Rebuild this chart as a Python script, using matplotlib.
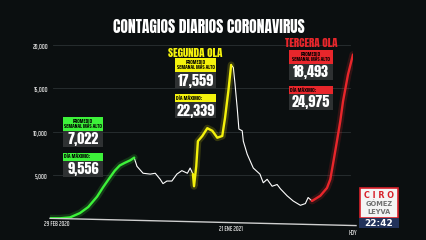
import matplotlib
matplotlib.use("Agg")
import matplotlib.pyplot as plt
from matplotlib.patches import Rectangle

# dias desde el 29 feb 2020 y contagios diarios
ola1_dias = [0, 18, 36, 54, 69, 85, 96, 108, 117, 126, 135, 145, 152]
ola1_casos = [0, 0, 100, 600, 1300, 2500, 3600, 4700, 5500, 6100, 6400, 6700, 7000]

valle1_dias = [152, 157, 168, 181, 190, 199, 204, 211, 220, 229, 238, 248, 253, 258]
valle1_casos = [7000, 6000, 5200, 5100, 5200, 4500, 4000, 4300, 4300, 5100, 5500, 5200, 5800, 5100]

ola2_dias = [258, 260, 264, 267, 275, 284, 293, 302, 311, 316, 322, 327]
ola2_casos = [5100, 3700, 6000, 8900, 9500, 10400, 10100, 9300, 9500, 11600, 14700, 17700]

valle2_dias = [327, 331, 334, 338, 341, 347, 349, 356, 367, 379, 385, 392, 401,
               410, 416, 428, 439, 452, 461, 466, 473]
valle2_casos = [17700, 17400, 15500, 12700, 10300, 10100, 8900, 7400, 5800, 5100, 4100,
                4500, 3700, 3900, 3400, 2600, 2000, 1500, 1700, 2400, 2000]

ola3_dias = [473, 488, 500, 506, 511, 518, 524, 529, 538, 547]
ola3_casos = [2000, 2600, 3500, 4500, 6300, 8900, 11200, 13500, 16600, 18900]

yticks = [5000, 10000, 15000, 20000]
fechas = ["29 FEB 2020", "21 ENE 2021", "HOY"]
fechas_dias = [0, 327, 547]

olas = [
    # titulo, promedio, dia maximo, color, x izquierda, ancho, y titulo, y caja
    ("", "7,022", "9,556", "#3df23a", 63, 40, None, 117),
    ("SEGUNDA OLA", "17,559", "22,339", "#f4f20c", 175, 41, 53, 58),
    ("TERCERA OLA", "18,493", "24,975", "#e8262b", 289, 44, 43, 50),
]

BIG = ["Anton", "DejaVu Sans"]
SMALL = ["Saira ExtraCondensed", "DejaVu Sans"]

BG = "#0b0f10"
W, H = 426, 240
fig = plt.figure(figsize=(4.26, 2.4), dpi=100, facecolor=BG)
ax = fig.add_axes([50 / W, (H - 218.3) / H, 303 / W, 173.3 / H])
ax.set_facecolor("none")
ax.set_xlim(0, 547)
ax.set_ylim(0, 20000)

for y in yticks:
    ax.axhline(y, xmin=0.01, xmax=0.99, color="#2b3133", lw=0.6, zorder=1)

ax.set_yticks(yticks)
ax.set_yticklabels([f"{v:,}" for v in yticks], fontsize=5.2, color="#d0d0d0",
                   family=SMALL, fontweight="semibold")
ax.tick_params(axis="y", length=0, pad=1.5)
ax.set_xticks([])
for s in ax.spines.values():
    s.set_visible(False)

# linea base inclinada
ax.plot([0, 1.01], [0.0, -0.042], transform=ax.transAxes, color="#cfcfcf", lw=1.0,
        clip_on=False, zorder=2)

ax.plot(valle1_dias, valle1_casos, color="white", lw=0.8, zorder=3)
ax.plot(valle2_dias, valle2_casos, color="white", lw=0.8, zorder=3)
for d, c, col in [(ola1_dias, ola1_casos, olas[0][3]),
                  (ola2_dias, ola2_casos, olas[1][3]),
                  (ola3_dias, ola3_casos, olas[2][3])]:
    ax.plot(d, c, color=col, lw=5, alpha=0.18, zorder=3, solid_capstyle="round")
    ax.plot(d, c, color=col, lw=1.7, zorder=4, solid_capstyle="round")

fy = [-0.032, -0.06, -0.084]
for lab, d, y in zip(fechas, fechas_dias, fy):
    ax.text(d + (12 if d == 0 else 0), y, lab, transform=ax.get_xaxis_transform(),
            fontsize=5.0, color="#d0d0d0", ha="center", va="center",
            family=SMALL, fontweight="semibold")

fig.text(209 / W, 1 - 27 / H, "CONTAGIOS DIARIOS CORONAVIRUS", ha="center", va="center",
         color="white", fontsize=11.2, family=BIG)


def caja(x0, y0, w, h, color):
    fig.patches.append(Rectangle((x0 / W, 1 - (y0 + h) / H), w / W, h / H,
                                 transform=fig.transFigure, facecolor=color,
                                 edgecolor="none", zorder=5))


def texto(x, y, s, **kw):
    fig.text(x / W, 1 - y / H, s, ha="center", va="center", zorder=10, **kw)


for titulo, prom, maxi, col, x0, w, yt, yb in olas:
    cx = x0 + w / 2
    if titulo:
        texto(cx, yt, titulo, color=col, fontsize=8, family=BIG)
    caja(x0, yb, w, 14, col)
    texto(cx, yb + 7, "PROMEDIO\nSEMANAL MÁS ALTO", color="black", fontsize=4.5,
          fontweight="bold", linespacing=1.05, family=SMALL)
    caja(x0, yb + 14, w, 16, "#2e3132")
    texto(cx, yb + 22.5, prom, color="white", fontsize=10.3, family=BIG)
    caja(x0, yb + 36, w, 8, col)
    fig.text((x0 + 1.5) / W, 1 - (yb + 40) / H, "DÍA MÁXIMO:", ha="left", va="center",
             color="black", fontsize=4.6, fontweight="bold", family=SMALL, zorder=10)
    caja(x0, yb + 44, w, 16, "#2e3132")
    texto(cx, yb + 52.5, maxi, color="white", fontsize=10.3, family=BIG)

# logo
fig.patches.append(Rectangle((360 / W, 1 - 218 / H), 38 / W, 30 / H, transform=fig.transFigure,
                             facecolor="#f4f4f4", edgecolor="#d8202a", lw=1.2, zorder=5))
fig.patches.append(Rectangle((359.4 / W, 1 - 228 / H), 39.2 / W, 10 / H, transform=fig.transFigure,
                             facecolor="#22325a", edgecolor="none", zorder=5))
texto(379, 195, "C I R O", color="#d8202a", fontsize=5.8, fontweight="bold")
texto(379, 204, "GÓMEZ", color="#707070", fontsize=4.8, fontweight="bold")
texto(379, 212, "LEYVA", color="#707070", fontsize=4.8, fontweight="bold")
texto(379, 223, "22:42", color="white", fontsize=6.5, fontweight="bold")

fig.savefig("out.png", dpi=100, facecolor=BG)
